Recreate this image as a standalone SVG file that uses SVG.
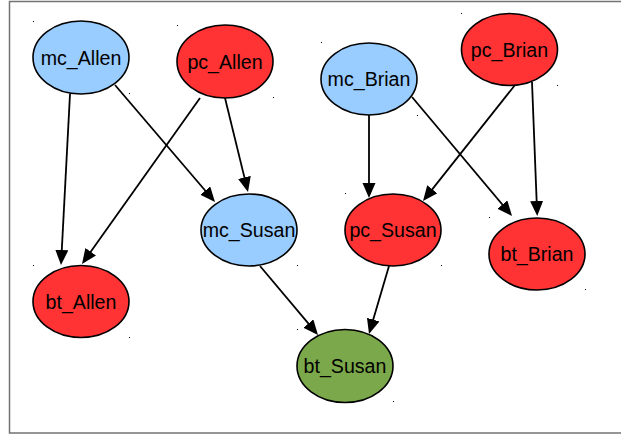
<svg xmlns="http://www.w3.org/2000/svg" width="621" height="434" viewBox="0 0 621 434">
  <style>
    .frame { fill: #ffffff; stroke: #737373; stroke-width: 1.5; }
    .node ellipse { stroke: #000000; stroke-width: 1.6; }
    .mc ellipse { fill: #99ccff; }
    .pc ellipse { fill: #ff3333; }
    .bt ellipse { fill: #ff3333; }
    .child ellipse { fill: #7ba84a; }
    .node text { font-family: "Liberation Sans", Arial, sans-serif; font-size: 19.6px; fill: #000000; text-anchor: middle; }
    .edge { stroke: #000000; stroke-width: 1.8; fill: none; marker-end: url(#arrow); }
    .tick { fill: #000000; }
  </style>
  <defs>
    <marker id="arrow" markerUnits="userSpaceOnUse" markerWidth="16" markerHeight="14" refX="12" refY="6.5" orient="auto">
      <path d="M0,0 L15,6.5 L0,13 z" fill="#000000"/>
    </marker>
  </defs>

  <rect class="frame" x="9.5" y="1.5" width="620" height="431.5"/>

  <!-- selection corner ticks -->
  <g id="ticks">
    <rect class="tick" x="33" y="21" width="1" height="1"/>
    <rect class="tick" x="129" y="93" width="1" height="1"/>
    <rect class="tick" x="177" y="25" width="1" height="1"/>
    <rect class="tick" x="273" y="97" width="1" height="1"/>
    <rect class="tick" x="321" y="42" width="1" height="1"/>
    <rect class="tick" x="417" y="115" width="1" height="1"/>
    <rect class="tick" x="461" y="13" width="1" height="1"/>
    <rect class="tick" x="557" y="85" width="1" height="1"/>
    <rect class="tick" x="297" y="265" width="1" height="1"/>
    <rect class="tick" x="33" y="265" width="1" height="1"/>
    <rect class="tick" x="129" y="337" width="1" height="1"/>
    <rect class="tick" x="345" y="193" width="1" height="1"/>
    <rect class="tick" x="441" y="265" width="1" height="1"/>
    <rect class="tick" x="489" y="217" width="1" height="1"/>
    <rect class="tick" x="585" y="289" width="1" height="1"/>
    <rect class="tick" x="297" y="329" width="1" height="1"/>
    <rect class="tick" x="393" y="401" width="1" height="1"/>
  </g>

  <g id="connectors">
    <line class="edge" x1="70" y1="94" x2="61.16" y2="262.0"/>
    <line class="edge" x1="200" y1="98" x2="83.74" y2="261.55"/>
    <line class="edge" x1="115" y1="85" x2="213.05" y2="199.72"/>
    <line class="edge" x1="225" y1="98" x2="247.29" y2="189.09"/>
    <line class="edge" x1="260" y1="266" x2="316.07" y2="332.70"/>
    <line class="edge" x1="389" y1="266" x2="369.85" y2="331.12"/>
    <line class="edge" x1="369" y1="115" x2="369" y2="195"/>
    <line class="edge" x1="515" y1="85" x2="424.86" y2="198.65"/>
    <line class="edge" x1="412" y1="97" x2="510.07" y2="213.70"/>
    <line class="edge" x1="532" y1="82" x2="537.11" y2="213.0"/>
  </g>

  <g id="mc_Allen" class="node mc">
    <ellipse cx="81" cy="57.5" rx="48" ry="36.5"/>
    <text x="81" y="64.5">mc_Allen</text>
  </g>
  <g id="pc_Allen" class="node pc">
    <ellipse cx="225" cy="61.5" rx="48" ry="36.5"/>
    <text x="225" y="69">pc_Allen</text>
  </g>
  <g id="mc_Brian" class="node mc">
    <ellipse cx="369" cy="79" rx="48" ry="36"/>
    <text x="369" y="86">mc_Brian</text>
  </g>
  <g id="pc_Brian" class="node pc">
    <ellipse cx="509.5" cy="49.5" rx="48" ry="36"/>
    <text x="509.5" y="57">pc_Brian</text>
  </g>
  <g id="mc_Susan" class="node mc">
    <ellipse cx="249" cy="230" rx="48" ry="36"/>
    <text x="249" y="237">mc_Susan</text>
  </g>
  <g id="pc_Susan" class="node bt">
    <ellipse cx="393" cy="230" rx="48" ry="36"/>
    <text x="393" y="237">pc_Susan</text>
  </g>
  <g id="bt_Allen" class="node bt">
    <ellipse cx="81" cy="301.5" rx="48" ry="36"/>
    <text x="81" y="309">bt_Allen</text>
  </g>
  <g id="bt_Brian" class="node bt">
    <ellipse cx="537" cy="254" rx="48" ry="36"/>
    <text x="537" y="261">bt_Brian</text>
  </g>
  <g id="bt_Susan" class="node child">
    <ellipse cx="345" cy="366" rx="48" ry="36.5"/>
    <text x="345" y="373">bt_Susan</text>
  </g>
</svg>
